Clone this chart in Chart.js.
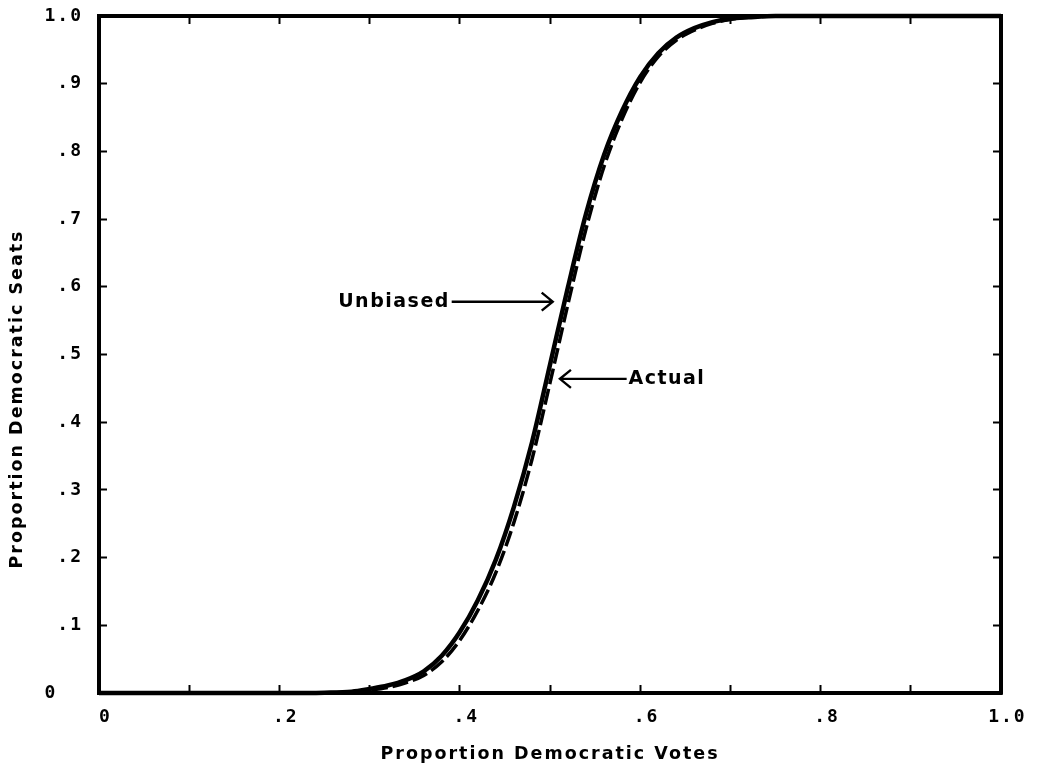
<!DOCTYPE html>
<html>
<head>
<meta charset="utf-8">
<script src="https://cdn.jsdelivr.net/npm/chart.js@4.4.1/dist/chart.umd.min.js"></script>
<style>
  html, body { margin: 0; padding: 0; background: #fff; }
  #wrap { width: 1038px; height: 770px; position: relative; }
</style>
</head>
<body>
<div id="wrap"><canvas id="c"></canvas></div>
<script>
// ---- data ----
const voteShare = [0, 0.10, 0.20, 0.25, 0.28, 0.30, 0.32, 0.34, 0.36, 0.38, 0.40, 0.42, 0.44, 0.46, 0.48, 0.50, 0.52, 0.54, 0.56, 0.58, 0.60, 0.62, 0.64, 0.66, 0.68, 0.70, 0.72, 0.75, 0.80, 0.90, 1.0];
const unbiasedSeats = [0, 0, 0, 0.0005, 0.002, 0.006, 0.011, 0.019, 0.032, 0.055, 0.090, 0.137, 0.197, 0.275, 0.37, 0.485, 0.600, 0.708, 0.795, 0.860, 0.910, 0.945, 0.968, 0.982, 0.991, 0.996, 0.998, 1, 1, 1, 1];
const actualSeats   = [0, 0, 0, 0.0003, 0.0015, 0.004, 0.008, 0.015, 0.026, 0.046, 0.078, 0.122, 0.178, 0.252, 0.345, 0.458, 0.575, 0.686, 0.778, 0.848, 0.902, 0.940, 0.964, 0.979, 0.989, 0.995, 0.998, 1, 1, 1, 1];
const xTickLabels = [' 0', '', ' .2', '', ' .4', '', ' .6', '', ' .8', '', ' 1.0'];
const yTickLabels = ['0  ', '.1', '.2', '.3', '.4', '.5', '.6', '.7', '.8', '.9', '1.0'];
const xTitle = 'Proportion Democratic Votes';
const yTitle = 'Proportion Democratic Seats';
const notes = [
  { text: 'Unbiased', textX: 0.389, tailX: 0.391, tipX: 0.503, y: 0.578, side: 'left' },
  { text: 'Actual',   textX: 0.587, tailX: 0.585, tipX: 0.511, y: 0.464, side: 'right' }
];

const toPts = (xs, ys) => xs.map((v, i) => ({ x: v, y: ys[i] }));

const spacingPlugin = {
  id: 'spacing',
  beforeUpdate(chart) { chart.ctx.letterSpacing = '2px'; },
  beforeDraw(chart) { chart.ctx.letterSpacing = '2px'; }
};

const notePlugin = {
  id: 'notes',
  afterDatasetsDraw(chart) {
    const ctx = chart.ctx, xs = chart.scales.x, ys = chart.scales.y;
    ctx.save();
    ctx.strokeStyle = '#000';
    ctx.fillStyle = '#000';
    ctx.lineWidth = 2.4;
    ctx.letterSpacing = '1.5px';
    ctx.font = 'bold 19px "DejaVu Sans"';
    ctx.textBaseline = 'middle';
    notes.forEach(n => {
      const py = ys.getPixelForValue(n.y);
      const tail = xs.getPixelForValue(n.tailX);
      const tip = xs.getPixelForValue(n.tipX);
      ctx.beginPath();
      ctx.moveTo(tail, py);
      ctx.lineTo(tip, py);
      const dir = tip > tail ? -1 : 1;
      ctx.moveTo(tip + dir * 11, py - 9);
      ctx.lineTo(tip, py);
      ctx.lineTo(tip + dir * 11, py + 9);
      ctx.stroke();
      const tx = xs.getPixelForValue(n.textX);
      ctx.textAlign = n.side === 'left' ? 'right' : 'left';
      ctx.fillText(n.text, tx, py);
    });
    ctx.restore();
  }
};

const zeroPad = s => { s.paddingTop = 0; s.paddingBottom = 0; s.paddingLeft = 0; s.paddingRight = 0; };
const tickFont = { family: '"DejaVu Sans Mono"', size: 18, weight: 'bold' };
const titleFont = { family: '"DejaVu Sans"', size: 17.5, weight: 'bold' };
const baseGrid = { drawOnChartArea: false, drawTicks: true, tickLength: -8, tickColor: '#000', tickWidth: 2 };
const border = { display: true, color: '#000', width: 4 };

new Chart(document.getElementById('c'), {
  type: 'scatter',
  data: {
    datasets: [
      {
        label: 'Unbiased',
        data: toPts(voteShare, unbiasedSeats),
        showLine: true, borderColor: '#000', borderWidth: 4.5,
        pointRadius: 0, cubicInterpolationMode: 'monotone', clip: false
      },
      {
        label: 'Actual',
        data: toPts(voteShare, actualSeats),
        showLine: true, borderColor: '#000', borderWidth: 3.5, borderDash: [16, 5],
        pointRadius: 0, cubicInterpolationMode: 'monotone', clip: false
      }
    ]
  },
  options: {
    responsive: true,
    maintainAspectRatio: false,
    animation: false,
    layout: { padding: 0 },
    plugins: { legend: { display: false }, tooltip: { enabled: false } },
    scales: {
      x: {
        type: 'linear', position: 'bottom', min: 0, max: 1,
        grid: baseGrid, border: border,
        ticks: { stepSize: 0.1, color: '#000', font: tickFont, padding: 22, maxRotation: 0, autoSkip: false,
                 callback: (v, i) => xTickLabels[i] },
        title: { display: true, text: xTitle, color: '#000', font: titleFont, padding: { top: 4, bottom: 5 } },
        afterFit: s => { s.height = 77; zeroPad(s); }
      },
      x2: {
        type: 'linear', position: 'top', min: 0, max: 1,
        grid: baseGrid, border: border,
        ticks: { stepSize: 0.1, display: false },
        afterFit: s => { s.height = 16; zeroPad(s); }
      },
      y: {
        type: 'linear', position: 'left', min: 0, max: 1,
        grid: baseGrid, border: border,
        ticks: { stepSize: 0.1, color: '#000', font: tickFont, padding: 24, autoSkip: false,
                 callback: (v, i) => yTickLabels[i] },
        title: { display: true, text: yTitle + '           ', color: '#000', font: titleFont, padding: { top: 7, bottom: 4 } },
        afterFit: s => { s.width = 99; zeroPad(s); }
      },
      y2: {
        type: 'linear', position: 'right', min: 0, max: 1,
        grid: baseGrid, border: border,
        ticks: { stepSize: 0.1, display: false },
        afterFit: s => { s.width = 37; zeroPad(s); }
      }
    }
  },
  plugins: [spacingPlugin, notePlugin]
});
</script>
</body>
</html>
